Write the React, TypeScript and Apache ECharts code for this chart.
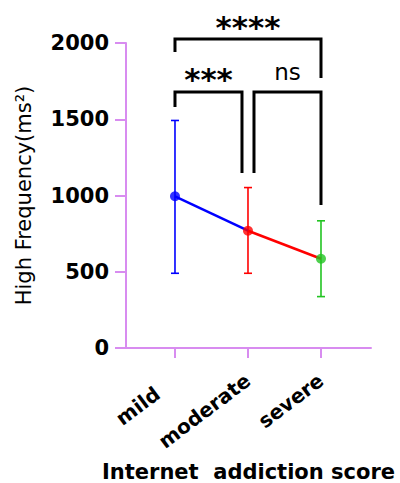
import React, { useEffect, useRef } from "react";
import * as echarts from "echarts";

// ---- data ----
const categories = ["mild", "moderate", "severe"];
const means = [995, 769, 585];
const upperErr = [1492, 1052, 834];
const lowerErr = [490, 490, 337];
const pointColors = ["#0000ff", "#ff0000", "#22c422"];
const yTicks = [0, 500, 1000, 1500, 2000];

// significance comparisons
const comparisonLabels = ["****", "***", "ns"];
const comparisonFrom = [0, 0, 1];
const comparisonTo = [2, 1, 2];

// bracket geometry (layout, in axis units / px shifts)
const bracketBar = [2026, 1679, 1679];
const bracketLeftEnd = [1941, 1580, 1148];
const bracketRightEnd = [1770, 1148, 938];
const bracketFromShift = [0, 0, 6];
const bracketToShift = [0, -6, 0];

// per-label shift along the rotated label direction (layout)
const labelPad = [22, 0, 0];

const AXIS_COLOR = "#d88cf0";
const FONT = "DejaVu Sans";

export default function App() {
  const ref = useRef<HTMLDivElement>(null);
  useEffect(() => {
    if (!ref.current) return;
    const chart = echarts.init(ref.current, undefined, { renderer: "svg" });
    const labelStyle = {
      color: "#000",
      fontFamily: FONT,
      fontWeight: "bold",
      fontSize: 20,
    };
    const option: any = {
      animation: false,
      grid: {
        left: 126,
        right: 29,
        top: 43,
        bottom: 135,
        containLabel: false,
        outerBoundsMode: "none",
      },
      xAxis: {
        type: "value",
        min: -0.671,
        max: 2.685,
        splitLine: { show: false },
        axisLine: { show: true, lineStyle: { color: AXIS_COLOR, width: 2 } },
        axisTick: {
          show: true,
          customValues: [0, 1, 2],
          length: 10,
          lineStyle: { color: AXIS_COLOR, width: 2 },
        },
        axisLabel: {
          customValues: [0, 1, 2],
          formatter: (v: number) => {
            const i = Math.round(v);
            return categories[i] ? `{c${i}|${categories[i]}}` : "";
          },
          rotate: 37,
          margin: 30,
          ...labelStyle,
          rich: {
            c0: { ...labelStyle, padding: [0, labelPad[0], 0, 0] },
            c1: { ...labelStyle, padding: [0, labelPad[1], 0, 0] },
            c2: { ...labelStyle, padding: [0, labelPad[2], 0, 0] },
          },
        },
        name: "Internet  addiction score",
        nameLocation: "middle",
        nameGap: 113,
        nameTextStyle: { color: "#000", fontFamily: FONT, fontWeight: "bold", fontSize: 21 },
      },
      yAxis: {
        type: "value",
        min: 0,
        max: 2000,
        interval: 500,
        splitLine: { show: false },
        axisLine: { show: true, onZero: false, lineStyle: { color: AXIS_COLOR, width: 2 } },
        axisTick: { show: true, length: 11, lineStyle: { color: AXIS_COLOR, width: 2 } },
        axisLabel: {
          margin: 17,
          color: "#000",
          fontFamily: FONT,
          fontWeight: "bold",
          fontSize: 21,
          formatter: (v: number) => (yTicks.includes(v) ? String(v) : ""),
        },
        name: "High Frequency(ms²)",
        nameLocation: "middle",
        nameRotate: 90,
        nameGap: 92,
        nameTextStyle: { color: "#000", fontFamily: FONT, fontSize: 21 },
      },
      series: [
        {
          type: "custom",
          name: "error",
          z: 1,
          clip: false,
          data: categories.map((_, i) => [i, lowerErr[i], upperErr[i]]),
          renderItem: (params: any, api: any) => {
            const i = params.dataIndex;
            const x = api.value(0);
            const lo = api.coord([x, api.value(1)]);
            const hi = api.coord([x, api.value(2)]);
            const c = pointColors[i];
            const hw = 4;
            const st = { stroke: c, lineWidth: 1.6 };
            return {
              type: "group",
              children: [
                { type: "line", shape: { x1: lo[0], y1: lo[1], x2: hi[0], y2: hi[1] }, style: st },
                { type: "line", shape: { x1: hi[0] - hw, y1: hi[1], x2: hi[0] + hw, y2: hi[1] }, style: st },
                { type: "line", shape: { x1: lo[0] - hw, y1: lo[1], x2: lo[0] + hw, y2: lo[1] }, style: st },
              ],
            };
          },
        },
        {
          type: "line",
          z: 2,
          symbol: "none",
          data: [[0, means[0]], [1, means[1]]],
          lineStyle: { color: pointColors[0], width: 2.5 },
        },
        {
          type: "line",
          z: 2,
          symbol: "none",
          data: [[1, means[1]], [2, means[2]]],
          lineStyle: { color: pointColors[1], width: 2.5 },
        },
        {
          type: "scatter",
          z: 3,
          symbolSize: 10,
          data: means.map((m, i) => ({ value: [i, m], itemStyle: { color: pointColors[i] } })),
        },
        {
          type: "custom",
          name: "brackets",
          z: 4,
          clip: false,
          data: comparisonLabels.map((_, i) => [comparisonFrom[i], comparisonTo[i]]),
          renderItem: (params: any, api: any) => {
            const i = params.dataIndex;
            const a = api.coord([comparisonFrom[i], bracketBar[i]]);
            const b = api.coord([comparisonTo[i], bracketBar[i]]);
            const x1 = a[0] + bracketFromShift[i];
            const x2 = b[0] + bracketToShift[i];
            const yb = a[1];
            const yl = api.coord([0, bracketLeftEnd[i]])[1];
            const yr = api.coord([0, bracketRightEnd[i]])[1];
            const label = comparisonLabels[i];
            const isStars = label !== "ns";
            return {
              type: "group",
              children: [
                {
                  type: "polyline",
                  shape: { points: [[x1, yl], [x1, yb], [x2, yb], [x2, yr]] },
                  style: { stroke: "#000", lineWidth: 3, fill: "none" },
                },
                {
                  type: "text",
                  x: (x1 + x2) / 2,
                  y: isStars ? yb + 3 : yb - 8,
                  style: {
                    text: label,
                    fill: "#000",
                    fontFamily: FONT,
                    fontWeight: isStars ? "bold" : "normal",
                    fontSize: isStars ? 31 : 23,
                    align: "center",
                    verticalAlign: "bottom",
                  },
                },
              ],
            };
          },
        },
      ],
    };
    chart.setOption(option);
    return () => chart.dispose();
  }, []);
  return (
    <div
      ref={ref}
      style={{ position: "absolute", left: 0, top: 0, width: 400, height: 483, background: "#fff" }}
    />
  );
}
